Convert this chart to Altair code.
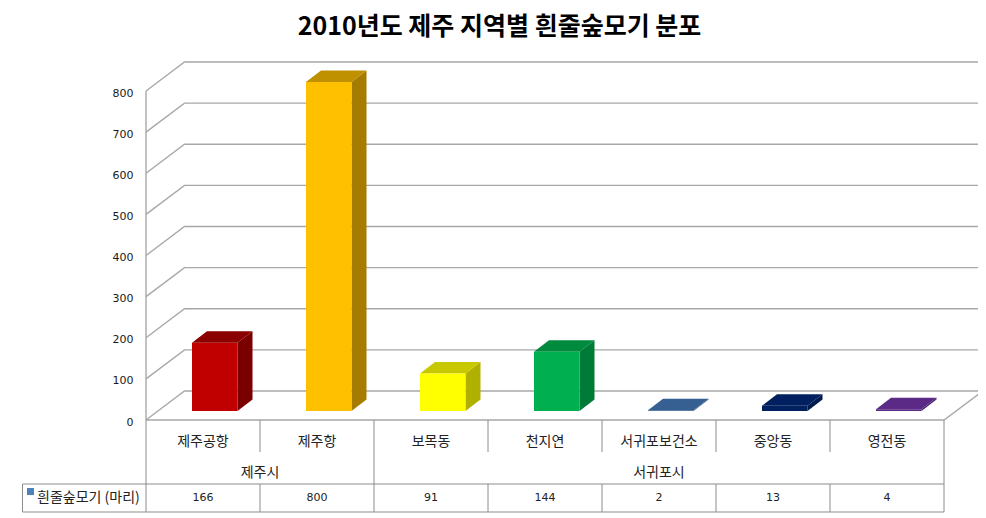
import altair as alt
import pandas as pd

# ---- values ----
CATEGORIES = ["제주공항", "제주항", "보목동", "천지연", "서귀포보건소", "중앙동", "영전동"]
VALUES = [166, 800, 91, 144, 2, 13, 4]
GROUPS = [("제주시", 0, 2), ("서귀포시", 2, 7)]
SERIES_NAME = "흰줄숲모기 (마리)"
TITLE = "2010년도 제주 지역별 흰줄숲모기 분포"
TICKS = [0, 100, 200, 300, 400, 500, 600, 700, 800]
FRONT = ["#C00000", "#FFC000", "#FFFF00", "#00B050", "#366092", "#002060", "#5B2A86"]
TOP = ["#8A0000", "#BF9000", "#C8C800", "#008A3E", "#366092", "#002060", "#5B2A86"]
SIDE = ["#7A0000", "#A67C00", "#B0B000", "#007A37", "#2A4A70", "#001A4D", "#47216A"]

# ---- scale geometry (pixels per unit) ----
PX_PER_CAT = 114.0
PX_PER_VAL = 0.41125
WIDTH, HEIGHT = 832, 357
XMAX = WIDTH / PX_PER_CAT
YMAX = HEIGHT / PX_PER_VAL
ncat = len(CATEGORIES)


def u(px):  # pixels right of the front-left corner -> category units
    return px / PX_PER_CAT


def v(px):  # pixels above the front floor line -> value units
    return px / PX_PER_VAL


WALL_DX, WALL_DY = u(38.5), v(29)
FLOOR_DX = u(39)
BAR_DX, BAR_DY = u(15), v(11.5)
BAR_GAP, BAR_W = u(46), u(45.5)
BAR_BASE = v(9)

# ---- wall, floor and table line segments ----
grid_rows, table_rows = [], []


def seg(rows, name, pts):
    for i, (a, b) in enumerate(pts):
        rows.append({"id": name, "i": i, "x": a, "y": b})


for t in TICKS:
    if t == 0:
        continue
    seg(grid_rows, f"g{t}", [(0, t), (WALL_DX, t + WALL_DY), (ncat + WALL_DX, t + WALL_DY)])
seg(grid_rows, "floor", [(0, 0), (WALL_DX, WALL_DY), (ncat + FLOOR_DX, WALL_DY), (ncat, 0), (0, 0)])
seg(grid_rows, "wall", [(0, 0), (0, TICKS[-1])])

Y_CAT_END, Y_ROW_TOP, Y_ROW_BOT = v(-32), v(-64), v(-92)
X_LEFT = u(-123.5)
seg(table_rows, "left", [(0, 0), (0, Y_ROW_BOT)])
seg(table_rows, "rowtop", [(X_LEFT, Y_ROW_TOP), (ncat, Y_ROW_TOP)])
seg(table_rows, "rowbot", [(X_LEFT, Y_ROW_BOT), (ncat, Y_ROW_BOT)])
seg(table_rows, "rowleft", [(X_LEFT, Y_ROW_TOP), (X_LEFT, Y_ROW_BOT)])
seg(table_rows, "right", [(ncat, 0), (ncat, Y_ROW_BOT)])
group_edges = {g[2] for g in GROUPS}
for k in range(1, ncat):
    if k in group_edges:
        seg(table_rows, f"d{k}", [(k, 0), (k, Y_ROW_BOT)])
    else:
        seg(table_rows, f"d{k}", [(k, 0), (k, Y_CAT_END)])
        seg(table_rows, f"r{k}", [(k, Y_ROW_TOP), (k, Y_ROW_BOT)])

# ---- bar faces ----
front_rows, side_rows, top_rows = [], [], []
for i, val in enumerate(VALUES):
    left = i + BAR_GAP
    right = left + BAR_W
    base, top = BAR_BASE, BAR_BASE + val
    front_rows.append({"x": left, "x2": right, "y": top, "y2": base, "c": FRONT[i]})
    side_rows += [
        {"id": i, "x": right, "y": top, "y2": base, "c": SIDE[i]},
        {"id": i, "x": right + BAR_DX, "y": top + BAR_DY, "y2": base + BAR_DY, "c": SIDE[i]},
    ]
    # the top face, a parallelogram, as an area swept left to right
    top_rows += [
        {"id": i, "x": left, "y": top, "y2": top, "c": TOP[i]},
        {"id": i, "x": left + BAR_DX, "y": top + BAR_DY, "y2": top, "c": TOP[i]},
        {"id": i, "x": right, "y": top + BAR_DY, "y2": top, "c": TOP[i]},
        {"id": i, "x": right + BAR_DX, "y": top + BAR_DY, "y2": top + BAR_DY, "c": TOP[i]},
    ]

# ---- table text ----
Y_CAT_TEXT, Y_GROUP_TEXT, Y_VAL_TEXT = v(-22), v(-53), v(-78)
cat_text = pd.DataFrame({"x": [i + 0.5 for i in range(ncat)], "y": Y_CAT_TEXT, "t": CATEGORIES})
group_text = pd.DataFrame({"x": [(a + b) / 2 for _, a, b in GROUPS], "y": Y_GROUP_TEXT, "t": [g[0] for g in GROUPS]})
val_text = pd.DataFrame({"x": [i + 0.5 for i in range(ncat)], "y": Y_VAL_TEXT, "t": [str(x) for x in VALUES]})
name_text = pd.DataFrame({"x": [u(-109)], "y": [Y_VAL_TEXT], "t": [SERIES_NAME]})
swatch = pd.DataFrame({"x": [u(-119)], "x2": [u(-112)], "y": [v(-68)], "y2": [v(-75)]})

# ---- encodings ----
SX = alt.Scale(domain=[0, XMAX], nice=False, zero=False)
SY = alt.Scale(domain=[0, YMAX], nice=False, zero=False)
FONT_KR = "Noto Sans CJK KR"
FONT_NUM = "DejaVu Sans"

y_axis = alt.Axis(values=TICKS, domain=False, ticks=False, grid=False, title=None, labelPadding=13,
                  labelOffset=2, labelFont=FONT_NUM, labelFontSize=11, labelColor="#1a1a1a")


def X(f="x"):
    return alt.X(f"{f}:Q", scale=SX, axis=None)


def Y(f="y"):
    return alt.Y(f"{f}:Q", scale=SY, axis=y_axis)


grid = alt.Chart(pd.DataFrame(grid_rows)).mark_line(color="#a8a8a8", strokeWidth=1.4).encode(
    x=X(), y=Y(), detail="id:N", order="i:Q")
table = alt.Chart(pd.DataFrame(table_rows)).mark_line(color="#8c8c8c", strokeWidth=1).encode(
    x=X(), y=Y(), detail="id:N", order="i:Q")

side = alt.Chart(pd.DataFrame(side_rows)).mark_area(interpolate="linear").encode(
    x=X(), y=Y(), y2="y2:Q", color=alt.Color("c:N", scale=None), detail="id:N")
top = alt.Chart(pd.DataFrame(top_rows)).mark_area(interpolate="linear").encode(
    x=X(), y=Y(), y2="y2:Q", color=alt.Color("c:N", scale=None), detail="id:N")
front = alt.Chart(pd.DataFrame(front_rows)).mark_rect().encode(
    x=X(), x2="x2:Q", y=Y(), y2="y2:Q", color=alt.Color("c:N", scale=None))


def label(df, font, size, align="center"):
    return alt.Chart(df).mark_text(font=font, fontSize=size, align=align, baseline="middle", color="#222222").encode(
        x=X(), y=Y(), text="t:N")


sw = alt.Chart(swatch).mark_rect(color="#4F81BD").encode(x=X(), x2="x2:Q", y=Y(), y2="y2:Q")

chart = alt.layer(
    grid, table, side, top, front, sw,
    label(cat_text, FONT_KR, 14), label(group_text, FONT_KR, 14),
    label(val_text, FONT_NUM, 11), label(name_text, FONT_KR, 14, "left"),
).properties(
    width=WIDTH, height=HEIGHT,
    padding={"left": 138, "top": 55, "right": 0, "bottom": 94},
    autosize=alt.AutoSizeParams(type="none"),
    title=alt.TitleParams(TITLE, font=FONT_KR, fontSize=25, fontWeight="bold", color="#000000",
                          anchor="middle", dx=-62.5, offset=19),
).configure_view(stroke=None)

chart.save("out.html", embed_options={"renderer": "svg", "actions": False})
